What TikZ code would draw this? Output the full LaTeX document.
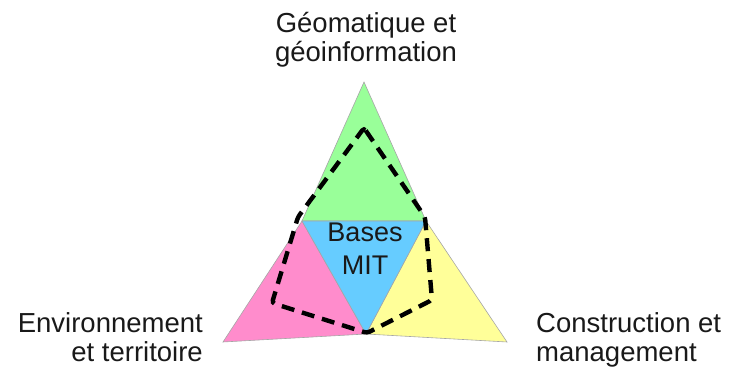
\documentclass[tikz,border=0pt]{standalone}
\usepackage{fontspec}
\setmainfont{Liberation Sans}
\usepackage{tikz}
\usetikzlibrary{positioning,calc}

\definecolor{geogreen}{RGB}{153,255,153}
\definecolor{envpink}{RGB}{255,140,204}
\definecolor{conyellow}{RGB}{255,255,153}
\definecolor{mitblue}{RGB}{102,204,255}

\begin{document}
\begin{tikzpicture}[
    x=1pt, y=-1pt,
    face/.style={
        draw=gray!70,
        line width=0.6pt,
        fill=#1
    },
    fieldlabel/.style={
        font=\fontsize{27.5}{29.5}\selectfont,
        text=black!90,
        inner sep=0pt,
        anchor=base
    },
    scope line/.style={
        draw=black,
        line width=4.4pt,
        dash pattern=on 13pt off 8pt,
        rounded corners=3pt
    }
]
\useasboundingbox (0,0) rectangle (734,371);

% Vertices of the big triangle
\coordinate (apex)  at (364,82);
\coordinate (midl)  at (302,221);
\coordinate (midr)  at (426,221);
\coordinate (botl)  at (223,342);
\coordinate (botr)  at (507,342);
\coordinate (botm)  at (366,334);

% --- Four faces ---
\draw[face=geogreen]  (apex) -- (midr) -- (midl) -- cycle;
\draw[face=envpink]   (midl) -- (botm) -- (botl) -- cycle;
\draw[face=conyellow] (midr) -- (botr) -- (botm) -- cycle;
\draw[face=mitblue]   (midl) -- (midr) -- (botm) -- cycle;

% Centre label
\node[fieldlabel, font=\fontsize{27}{29}\selectfont] (mit) at (365,242) {Bases};
\node[fieldlabel, font=\fontsize{27}{29}\selectfont] (mit2) at (365,275) {MIT};

% Dashed outline of the scope
\coordinate (d1) at (364,128);
\coordinate (d2) at (425,217);
\coordinate (d3) at (432,300);
\coordinate (d4) at (367,333);
\coordinate (d5) at (272,303);
\coordinate (d6) at (298,217);
\draw[scope line] (d1) -- (d2) -- (d3) -- (d4) -- (d5) -- (d6) -- cycle;

% --- Domain labels (base = last line) ---
\node[fieldlabel, align=center] (geo) at (366,62) {Géomatique et\\géoinformation};
\node[fieldlabel, align=right, anchor=base east] (env) at (203,362) {Environnement\\et territoire};
\node[fieldlabel, align=left, anchor=base west] (con) at (536,362) {Construction et\\management};

\end{tikzpicture}
\end{document}
